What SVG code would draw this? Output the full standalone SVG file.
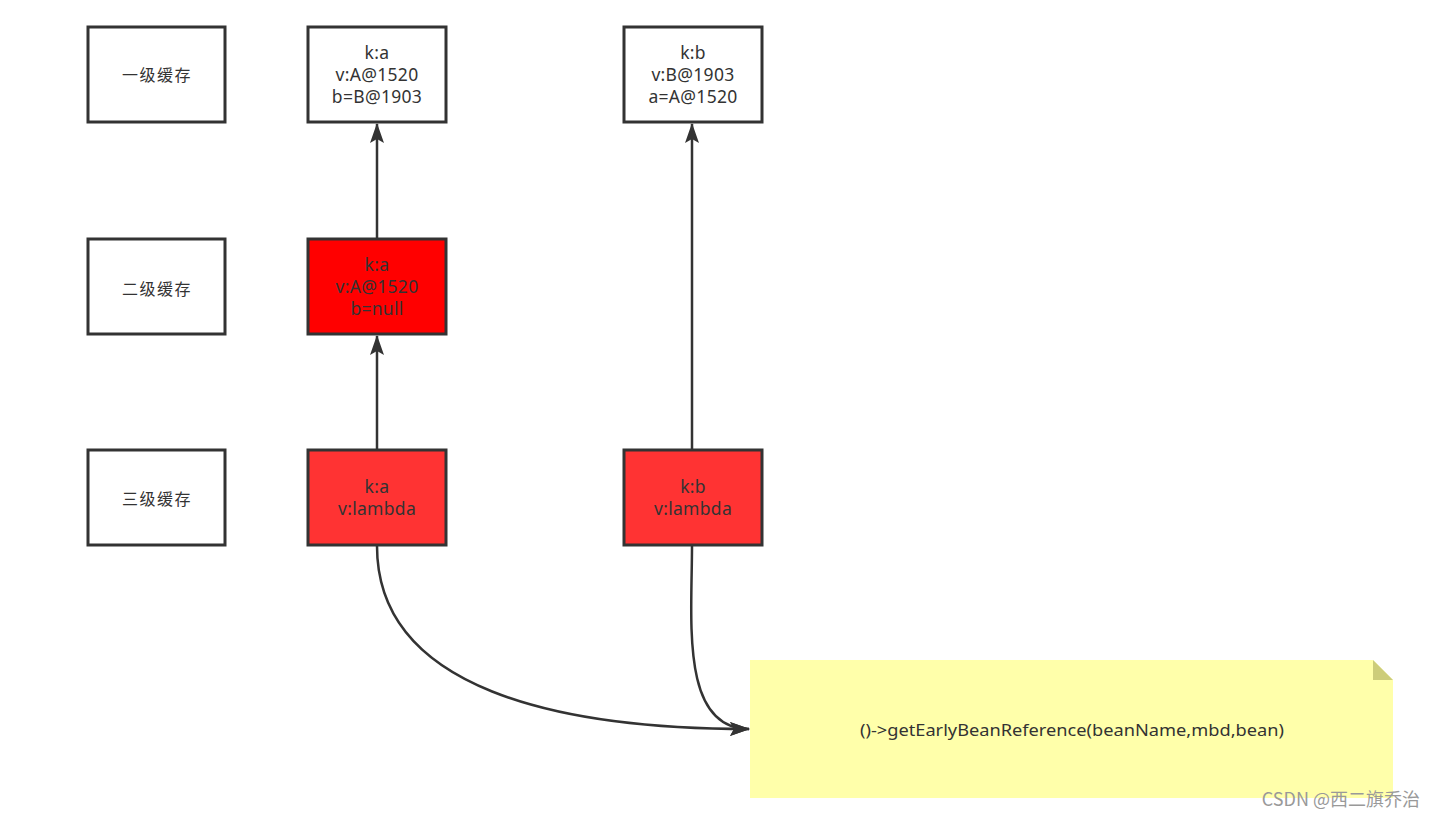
<svg xmlns="http://www.w3.org/2000/svg" width="1435" height="817" viewBox="0 0 1435 817">
<style>
.box{stroke:#333;stroke-width:3;fill:#fff}
.t{font-family:"Noto Sans","Noto Sans CJK SC",sans-serif;font-size:17.5px;letter-spacing:0.3px;fill:#333;text-anchor:middle}
.c{font-family:"Noto Sans CJK SC",sans-serif;font-size:16px;letter-spacing:1.5px;fill:#333;text-anchor:middle}
.edge{fill:none;stroke:#333;stroke-width:2.5}
</style>
<defs>
<marker id="ah" viewBox="0 0 20 14" refX="19" refY="7" markerWidth="20" markerHeight="14" markerUnits="userSpaceOnUse" orient="auto">
<path d="M0,0 L20,7 L0,14 L4,7 Z" fill="#333"/>
</marker>
</defs>
<rect width="1435" height="817" fill="#fff"/>
<g id="connectors">
<path class="edge" d="M377,450 L377,336" marker-end="url(#ah)"/>
<path class="edge" d="M377,239 L377,124" marker-end="url(#ah)"/>
<path class="edge" d="M692,450 L692,124" marker-end="url(#ah)"/>
<path class="edge" d="M377,546 C377,690 560,729 749,729" marker-end="url(#ah)"/>
<path class="edge" d="M692,546 C692,620 680,729 749,729" marker-end="url(#ah)"/>
</g>
<g id="l1">
<rect class="box" x="88" y="27" width="137" height="95"/>
<text class="c" x="157" y="81">一级缓存</text>
</g>
<g id="l2">
<rect class="box" x="88" y="239" width="137" height="95"/>
<text class="c" x="157" y="295">二级缓存</text>
</g>
<g id="l3">
<rect class="box" x="88" y="450" width="137" height="95"/>
<text class="c" x="157" y="505">三级缓存</text>
</g>
<g id="a1">
<rect class="box" x="308" y="27" width="138" height="95"/>
<text class="t" x="377" y="59">k:a</text>
<text class="t" x="377" y="81">v:A@1520</text>
<text class="t" x="377" y="103">b=B@1903</text>
</g>
<g id="a2">
<rect class="box" x="308" y="239" width="138" height="95" style="fill:#ff0000"/>
<text class="t" x="377" y="271">k:a</text>
<text class="t" x="377" y="293">v:A@1520</text>
<text class="t" x="377" y="315">b=null</text>
</g>
<g id="a3">
<rect class="box" x="308" y="450" width="138" height="95" style="fill:#ff3333"/>
<text class="t" x="377" y="493">k:a</text>
<text class="t" x="377" y="515">v:lambda</text>
</g>
<g id="b1">
<rect class="box" x="624" y="27" width="138" height="95"/>
<text class="t" x="693" y="59">k:b</text>
<text class="t" x="693" y="81">v:B@1903</text>
<text class="t" x="693" y="103">a=A@1520</text>
</g>
<g id="b3">
<rect class="box" x="624" y="450" width="138" height="95" style="fill:#ff3333"/>
<text class="t" x="693" y="493">k:b</text>
<text class="t" x="693" y="515">v:lambda</text>
</g>
<g id="note">
<path d="M750,660 L1373,660 L1393,680 L1393,798 L750,798 Z" fill="#ffffaa"/>
<path d="M1373,660 L1393,680 L1373,680 Z" fill="#cdcd7a"/>
<text x="1072" y="736" textLength="424" lengthAdjust="spacingAndGlyphs" style="font-family:'Noto Sans',sans-serif;font-size:17px;fill:#333;text-anchor:middle">()-&gt;getEarlyBeanReference(beanName,mbd,bean)</text>
</g>
<text x="1420" y="806" style="font-family:'Noto Sans CJK SC',sans-serif;font-size:18px;fill:#999;text-anchor:end">CSDN @西二旗乔治</text>
</svg>
